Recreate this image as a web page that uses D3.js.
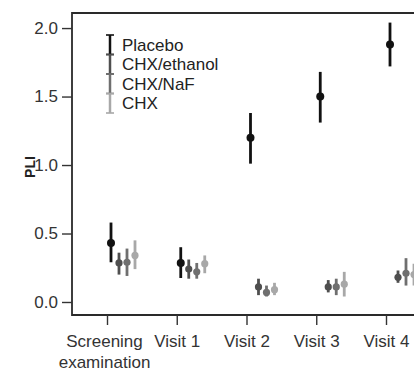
<!DOCTYPE html>
<html>
<head>
<meta charset="utf-8">
<script src="https://cdn.jsdelivr.net/npm/d3@7"></script>
<style>
  body { margin: 0; background: #fff; }
  svg text { font-family: "Liberation Sans", Arial, sans-serif; }
</style>
</head>
<body>
<svg id="chart" width="414" height="372"></svg>
<script>
// visits along x, one series per treatment
const visits = ['Screening examination', 'Visit 1', 'Visit 2', 'Visit 3', 'Visit 4'];
const series = ['Placebo', 'CHX/ethanol', 'CHX/NaF', 'CHX'];
const colors = ['#111111', '#4f4f4f', '#6f6f6f', '#a8a8a8'];
const yTicks = [0, 0.5, 1.0, 1.5, 2.0];

// mean, lower, upper per visit
const placebo    = [[0.43, 0.29, 0.58], [0.285, 0.175, 0.40], [1.20, 1.01, 1.38], [1.50, 1.31, 1.68], [1.88, 1.72, 2.04]];
const chxEthanol = [[0.285, 0.20, 0.36], [0.24, 0.17, 0.31], [0.11, 0.05, 0.17], [0.11, 0.07, 0.16], [0.18, 0.14, 0.23]];
const chxNaF     = [[0.29, 0.19, 0.39], [0.22, 0.17, 0.285], [0.07, 0.04, 0.12], [0.11, 0.05, 0.17], [0.21, 0.12, 0.32]];
const chx        = [[0.34, 0.24, 0.45], [0.28, 0.21, 0.34], [0.09, 0.05, 0.14], [0.13, 0.04, 0.22], [0.20, 0.12, 0.28]];
const allSeries = [placebo, chxEthanol, chxNaF, chx];

const svg = d3.select('#chart');
const W = 414;
const mLeft = 72, mTop = 13, mBottom = 315;

const x = d3.scalePoint().domain(visits).range([107, 386]);
const dodge = d3.scalePoint().domain(series).range([4, 28]);
const y = d3.scaleLinear().domain([-0.095, 2.11]).range([mBottom, mTop]);

// frame
svg.append('path')
  .attr('d', `M${W},${mTop}H${mLeft}V${mBottom}H${W}`)
  .attr('fill', 'none').attr('stroke', '#2a2a2a').attr('stroke-width', 1.8);

// y axis
const yAxis = svg.append('g').attr('transform', `translate(${mLeft},0)`)
  .call(d3.axisLeft(y).tickValues(yTicks).tickFormat(d3.format('.1f')).tickSize(10).tickPadding(4));
yAxis.select('.domain').remove();
yAxis.selectAll('line').attr('stroke', '#333').attr('stroke-width', 1.4);
yAxis.selectAll('text').attr('font-size', 17).attr('fill', '#333');

// x axis
const xAxis = svg.append('g').attr('transform', `translate(0,${mBottom})`)
  .call(d3.axisBottom(x).tickSize(10).tickFormat(''));
xAxis.select('.domain').remove();
xAxis.selectAll('line').attr('stroke', '#333').attr('stroke-width', 1.4);
xAxis.selectAll('.tick').each(function(d) {
  const t = d3.select(this).append('text')
    .attr('fill', '#333').attr('font-size', 17).attr('text-anchor', 'middle');
  d.startsWith('Screening')
    ? d.split(' ').forEach((w, i) => t.append('tspan').attr('x', -3).attr('y', 32 + i * 21).text(w))
    : t.attr('y', 32).text(d);
});

// y label
svg.append('text')
  .attr('transform', 'translate(35,167) rotate(-90)')
  .attr('text-anchor', 'middle').attr('font-size', 14).attr('font-weight', 'bold').attr('fill', '#222')
  .text('PLI');

// error bars + points
series.forEach((s, si) => {
  const g = svg.append('g');
  const data = allSeries[si];
  const px = (d, i) => x(visits[i]) + dodge(s);
  g.selectAll('line').data(data).join('line')
    .attr('x1', px).attr('x2', px)
    .attr('y1', d => y(d[1])).attr('y2', d => y(d[2]))
    .attr('stroke', colors[si]).attr('stroke-width', 2.8);
  g.selectAll('circle').data(data).join('circle')
    .attr('cx', px).attr('cy', d => y(d[0]))
    .attr('r', si === 0 ? 4 : 3.6)
    .attr('fill', colors[si]);
});

// legend
const legY = d3.scaleLinear().domain([0, 4]).range([35, 113]);
const leg = svg.append('g');
series.forEach((s, si) => {
  const y0 = legY(si), y1 = legY(si + 1);
  leg.append('line').attr('x1', 110).attr('x2', 110).attr('y1', y0).attr('y2', y1)
    .attr('stroke', colors[si]).attr('stroke-width', 2.5);
  [y0, y1].forEach(yy => leg.append('line')
    .attr('x1', 106).attr('x2', 114).attr('y1', yy).attr('y2', yy)
    .attr('stroke', colors[si]).attr('stroke-width', 1.6));
  leg.append('text').attr('x', 122).attr('y', (y0 + y1) / 2 + 6)
    .attr('font-size', 17).attr('fill', '#222').text(s);
});
</script>
</body>
</html>
